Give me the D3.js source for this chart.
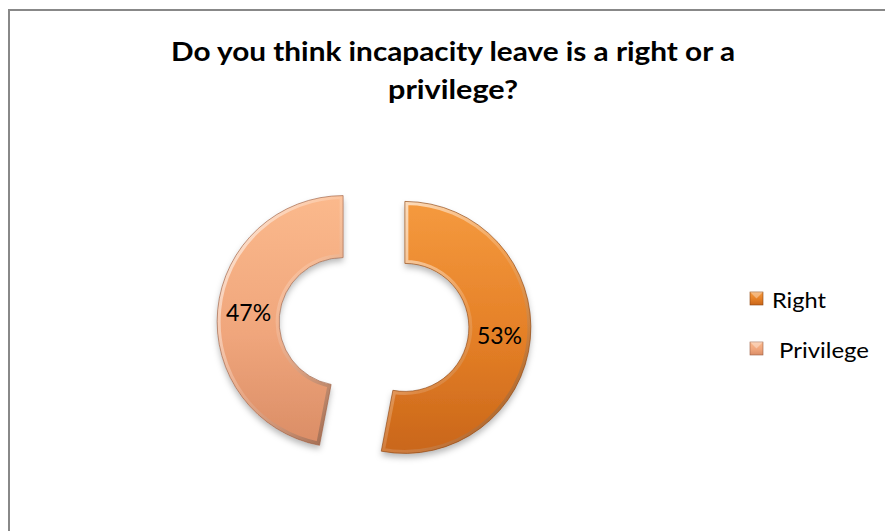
<!DOCTYPE html>
<html>
<head>
<meta charset="utf-8">
<script src="https://cdn.jsdelivr.net/npm/d3@7"></script>
<style>
  html, body { margin: 0; padding: 0; background: #fff; }
  svg { display: block; }
</style>
</head>
<body>
<svg id="chart" width="885" height="531"></svg>
<script>
// Survey answers
const categories = ["Right", "Privilege"];
const values = [53, 47];
const titleLines = ["Do you think incapacity leave is a right or a", "privilege?"];

// Slice palettes: [light, base, dark, edge]
const palettes = [
  ["#F59A3F", "#E47F26", "#C9661A", "#8A4513"],
  ["#FBB98C", "#F0A67C", "#DA8D66", "#9A5F44"]
];

const W = 885, H = 531;
const FONT = "Lato, 'Open Sans', sans-serif";
const svg = d3.select("#chart");
const defs = svg.append("defs");

// Chart frame (runs off the right and bottom edges)
svg.append("path")
  .attr("d", `M9,${H} V10 H${W}`)
  .attr("fill", "none")
  .attr("stroke", "#888")
  .attr("stroke-width", 2);

// Title
const titleWidths = [564, 130];
const title = svg.append("text")
  .attr("text-anchor", "middle")
  .attr("font-family", FONT)
  .attr("font-weight", "bold")
  .attr("font-size", 27)
  .attr("fill", "#000");
title.selectAll("tspan").data(titleLines).join("tspan")
  .attr("x", 453)
  .attr("y", (d, i) => 61 + i * 38)
  .attr("textLength", (d, i) => titleWidths[i])
  .attr("lengthAdjust", "spacingAndGlyphs")
  .text(d => d);

// Soft drop shadow
const shadow = defs.append("filter").attr("id", "shadow")
  .attr("x", "-20%").attr("y", "-20%").attr("width", "140%").attr("height", "150%");
shadow.append("feDropShadow")
  .attr("dx", 0).attr("dy", 4).attr("stdDeviation", 3)
  .attr("flood-color", "#000").attr("flood-opacity", 0.28);

// Gradients per slice
palettes.forEach((p, i) => {
  const g = defs.append("linearGradient").attr("id", "fill" + i)
    .attr("x1", "0").attr("y1", "0").attr("x2", "0").attr("y2", "1");
  g.append("stop").attr("offset", "0%").attr("stop-color", p[0]);
  g.append("stop").attr("offset", "55%").attr("stop-color", p[1]);
  g.append("stop").attr("offset", "100%").attr("stop-color", p[2]);

  const b = defs.append("linearGradient").attr("id", "bevel" + i)
    .attr("x1", "0").attr("y1", "0").attr("x2", "1").attr("y2", "1");
  b.append("stop").attr("offset", "0%").attr("stop-color", "#fff").attr("stop-opacity", 0.75);
  b.append("stop").attr("offset", "50%").attr("stop-color", "#fff").attr("stop-opacity", 0.15);
  b.append("stop").attr("offset", "100%").attr("stop-color", "#000").attr("stop-opacity", 0.35);
});

// Doughnut geometry
const cx = 374, cy = 324.5;
const outerR = 126, innerR = 64, explode = 31;

const pie = d3.pie().sort(null).value(d => d);
const arcs = pie(values);
const arc = d3.arc().innerRadius(innerR).outerRadius(outerR);

const slices = svg.append("g").attr("transform", `translate(${cx},${cy})`)
  .selectAll("g.slice").data(arcs).join("g")
  .attr("class", "slice")
  .attr("transform", d => {
    const m = (d.startAngle + d.endAngle) / 2;
    return `translate(${Math.sin(m) * explode},${-Math.cos(m) * explode})`;
  });

slices.each(function (d, i) {
  const g = d3.select(this);
  const path = arc(d);
  defs.append("clipPath").attr("id", "clip" + i).append("path").attr("d", path);
  // body
  g.append("path").attr("d", path)
    .attr("fill", `url(#fill${i})`)
    .attr("filter", "url(#shadow)");
  // bevelled rim
  g.append("path").attr("d", path)
    .attr("fill", "none")
    .attr("stroke", `url(#bevel${i})`)
    .attr("stroke-width", 7)
    .attr("clip-path", `url(#clip${i})`);
  // edge
  g.append("path").attr("d", path)
    .attr("fill", "none")
    .attr("stroke", palettes[i][3])
    .attr("stroke-opacity", 0.7)
    .attr("stroke-width", 0.9);
  // value label
  const c = arc.centroid(d);
  g.append("text")
    .attr("x", c[0]).attr("y", c[1])
    .attr("dy", "0.35em")
    .attr("text-anchor", "middle")
    .attr("font-family", FONT)
    .attr("font-size", 23)
    .attr("fill", "#000")
    .text(values[i] + "%");
});

// Legend
const legendWidths = [54, 90];
const legend = svg.append("g")
  .selectAll("g").data(categories).join("g")
  .attr("transform", (d, i) => `translate(750,${292 + i * 50})`);
legend.append("rect")
  .attr("width", 13).attr("height", 13)
  .attr("fill", (d, i) => `url(#fill${i})`)
  .attr("stroke", (d, i) => palettes[i][3])
  .attr("stroke-width", 0.6);
legend.append("path")
  .attr("d", "M0,0 L6.5,6.5 L13,0 Z")
  .attr("fill", "#fff").attr("fill-opacity", 0.35);
legend.append("text")
  .attr("x", (d, i) => i === 0 ? 22 : 29)
  .attr("y", 16)
  .attr("font-family", FONT)
  .attr("font-size", 22)
  .attr("textLength", (d, i) => legendWidths[i])
  .attr("lengthAdjust", "spacingAndGlyphs")
  .attr("fill", "#000")
  .text(d => d);
</script>
</body>
</html>
